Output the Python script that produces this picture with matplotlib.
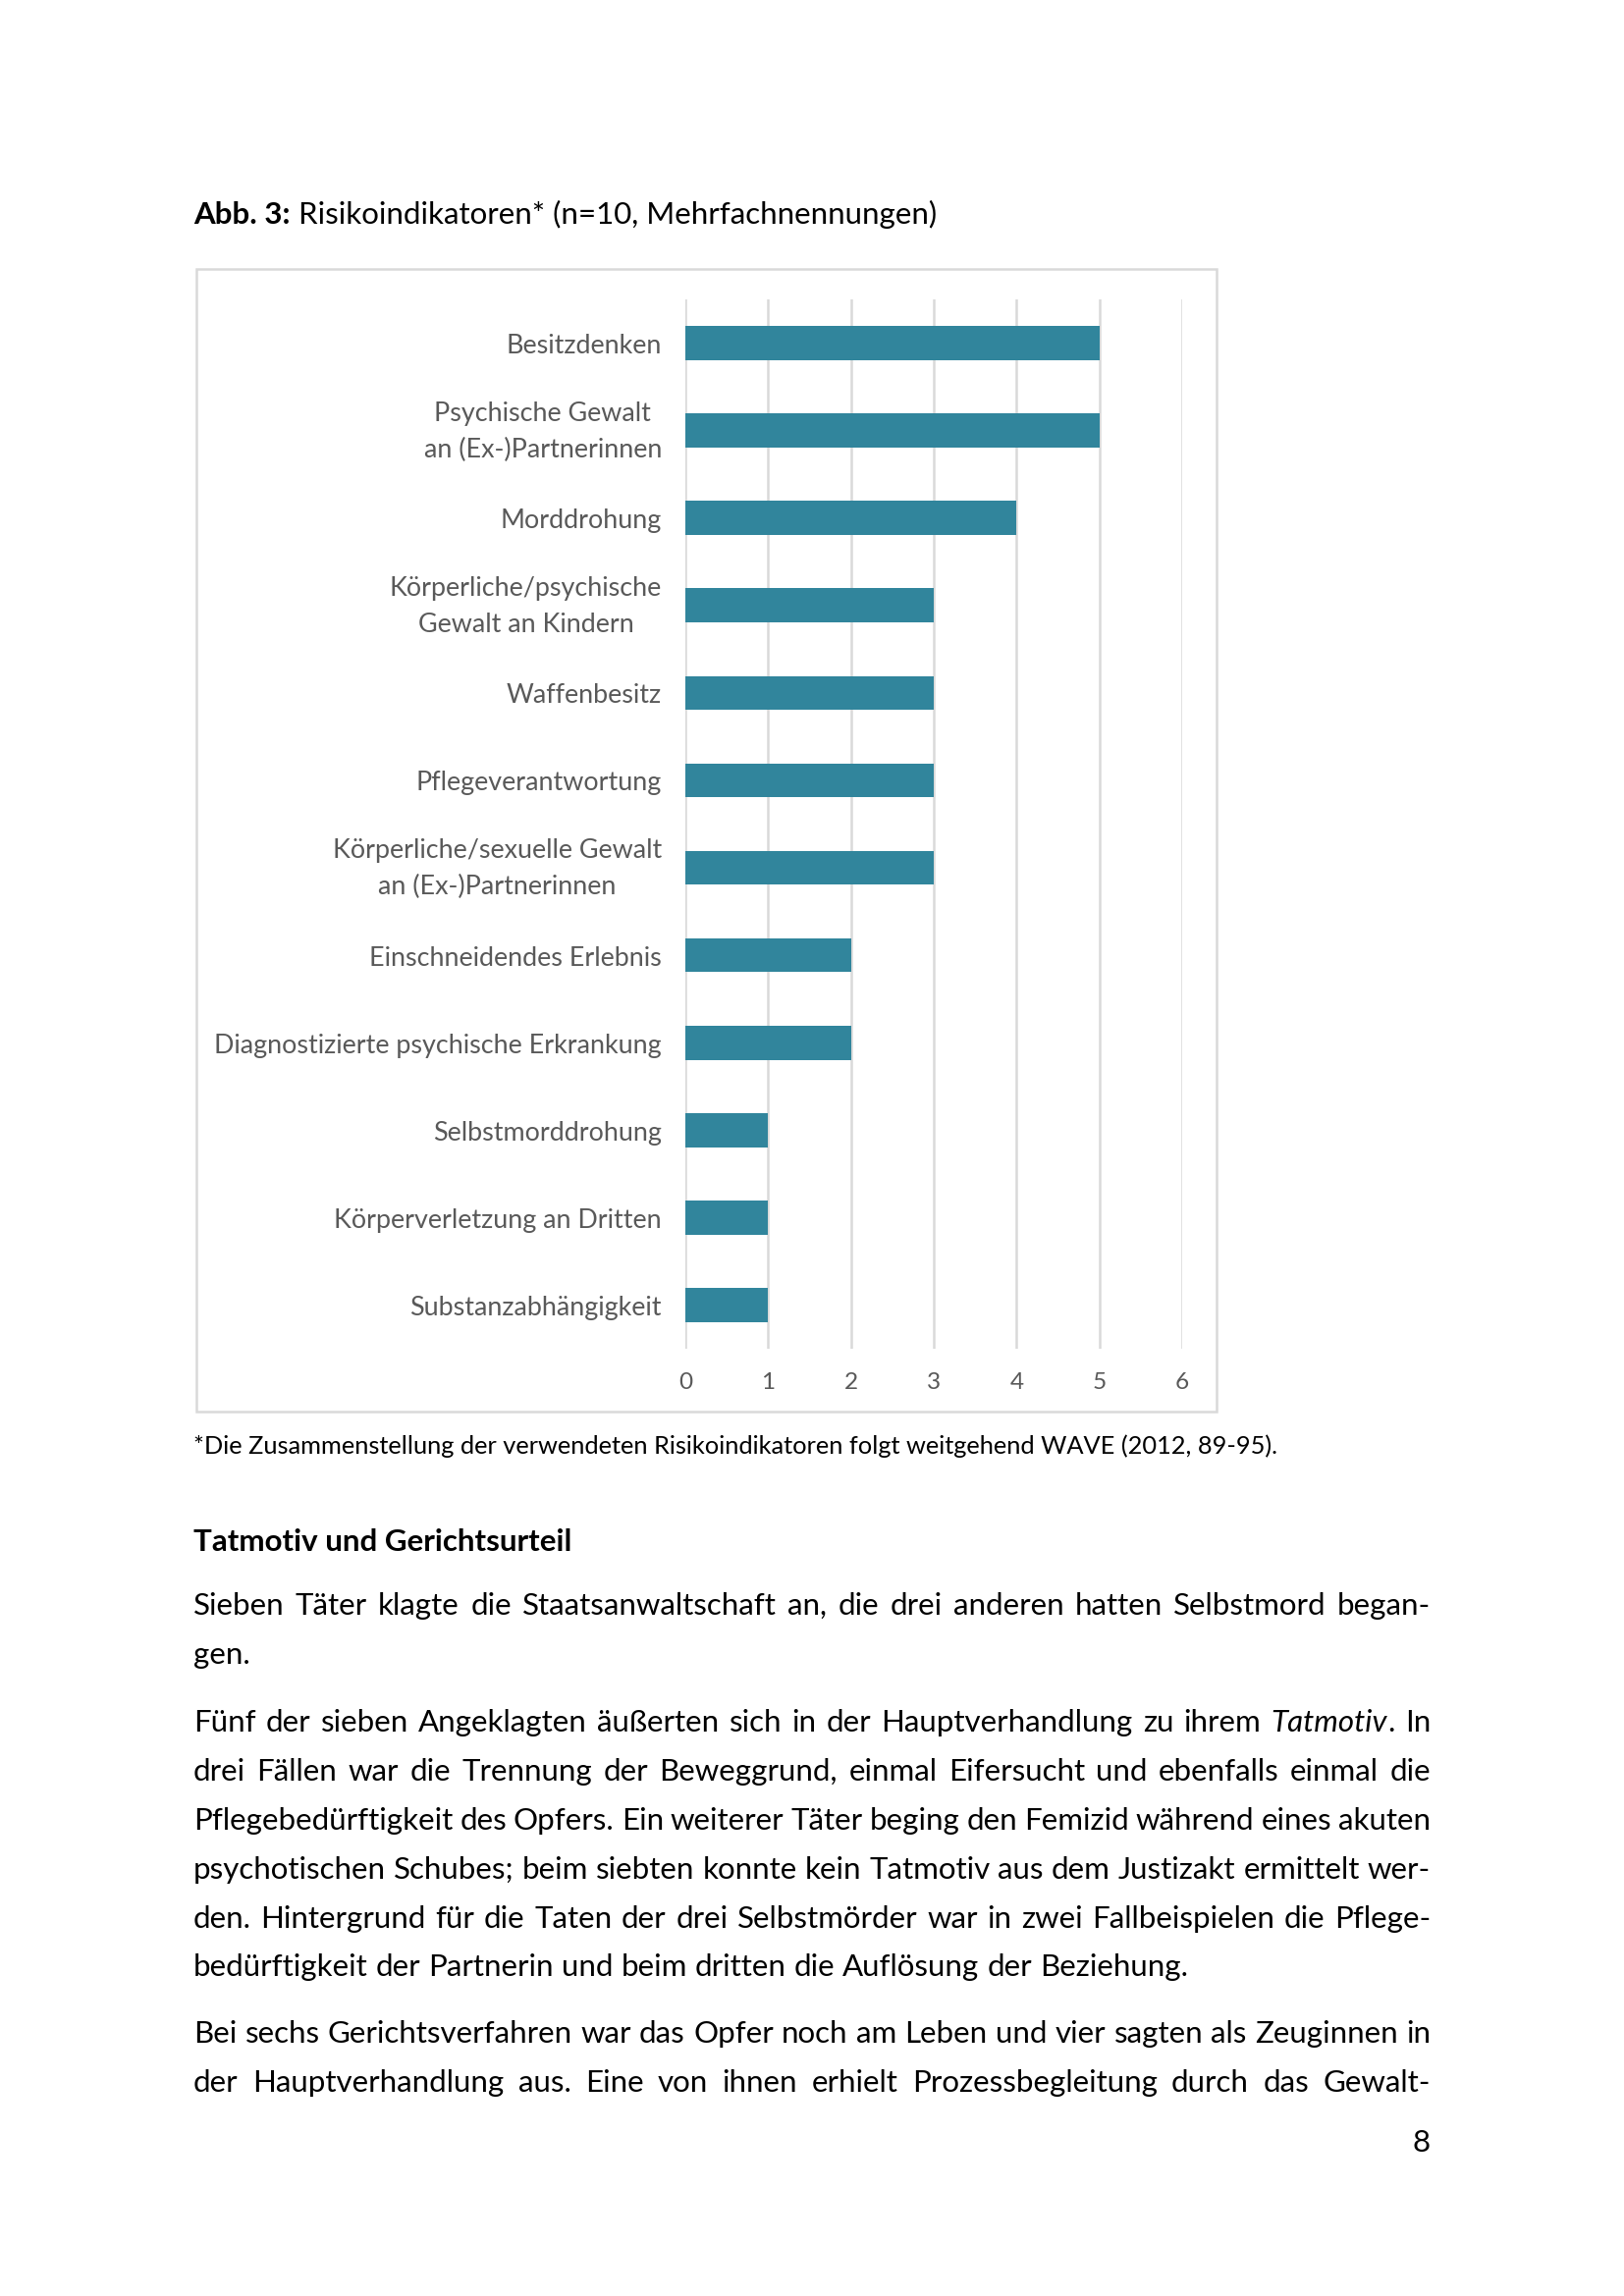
import matplotlib
matplotlib.use("Agg")
import matplotlib.pyplot as plt
import matplotlib.transforms as mtransforms
from matplotlib.patches import Rectangle

# -----------------------------
# Data
# -----------------------------
categories = [
    "Besitzdenken",
    "Psychische Gewalt\nan (Ex-)Partnerinnen",
    "Morddrohung",
    "Körperliche/psychische\nGewalt an Kindern",
    "Waffenbesitz",
    "Pflegeverantwortung",
    "Körperliche/sexuelle Gewalt\nan (Ex-)Partnerinnen",
    "Einschneidendes Erlebnis",
    "Diagnostizierte psychische Erkrankung",
    "Selbstmorddrohung",
    "Körperverletzung an Dritten",
    "Substanzabhängigkeit",
]
values = [5, 5, 4, 3, 3, 3, 3, 2, 2, 1, 1, 1]
xticks = [0, 1, 2, 3, 4, 5, 6]

title_bold = "Abb. 3:"
title_rest = "Risikoindikatoren* (n=10, Mehrfachnennungen)"
footnote = "*Die Zusammenstellung der verwendeten Risikoindikatoren folgt weitgehend WAVE (2012, 89-95)."
heading = "Tatmotiv und Gerichtsurteil"

# body lines: (text, justified?)  -- *word* marks italics
body = [
    ("Sieben Täter klagte die Staatsanwaltschaft an, die drei anderen hatten Selbstmord began-", True),
    ("gen.", False),
    ("Fünf der sieben Angeklagten äußerten sich in der Hauptverhandlung zu ihrem *Tatmotiv*. In", True),
    ("drei Fällen war die Trennung der Beweggrund, einmal Eifersucht und ebenfalls einmal die", True),
    ("Pflegebedürftigkeit des Opfers. Ein weiterer Täter beging den Femizid während eines akuten", True),
    ("psychotischen Schubes; beim siebten konnte kein Tatmotiv aus dem Justizakt ermittelt wer-", True),
    ("den. Hintergrund für die Taten der drei Selbstmörder war in zwei Fallbeispielen die Pflege-", True),
    ("bedürftigkeit der Partnerin und beim dritten die Auflösung der Beziehung.", False),
    ("Bei sechs Gerichtsverfahren war das Opfer noch am Leben und vier sagten als Zeuginnen in", True),
    ("der Hauptverhandlung aus. Eine von ihnen erhielt Prozessbegleitung durch das Gewalt-", True),
]
body_baselines = [1645, 1695, 1764, 1814, 1864, 1914, 1964, 2013, 2081, 2131]

# -----------------------------
# Page setup (pixel helpers)
# -----------------------------
W, H, DPI = 1654, 2339, 200
plt.rcParams['font.family'] = ['Lato', 'DejaVu Sans']

fig = plt.figure(figsize=(W / DPI, H / DPI), dpi=DPI)
renderer = fig.canvas.get_renderer()

def fx(x):
    return x / W

def fy(y):
    return 1 - y / H

BAR = '#31859C'
GRID = '#D9D9D9'
LABEL = '#595959'
BODY_SIZE = 11.25
LEFT, RIGHT = 197, 1457

def measure(txt, size, **kw):
    t = fig.text(0, 0, txt, fontsize=size, **kw)
    w = t.get_window_extent(renderer=renderer).width
    t.remove()
    return w

def put(x, y, txt, size, **kw):
    return fig.text(fx(x), fy(y), txt, fontsize=size, va='baseline', **kw)

# -----------------------------
# Title
# -----------------------------
put(LEFT, 228, title_bold, BODY_SIZE, fontweight='bold')
sp = measure("a a", BODY_SIZE) - measure("aa", BODY_SIZE)
put(LEFT + measure(title_bold, BODY_SIZE, fontweight='bold') + sp, 228, title_rest, BODY_SIZE)

# -----------------------------
# Chart frame + bars
# -----------------------------
fig.patches.append(Rectangle((fx(200), fy(1438)), (1239 - 200) / W, (1438 - 274) / H,
                             transform=fig.transFigure, fill=False,
                             edgecolor=GRID, lw=0.9))

ax = fig.add_axes([fx(698), fy(1374), (1204 - 698) / W, (1374 - 305) / H])
ypos = list(range(len(categories)))
ax.barh(ypos, values, height=0.39, color=BAR, zorder=3)
ax.set_xlim(0, 6)
ax.set_ylim(len(categories) - 0.5, -0.5)
ax.set_xticks(xticks)
ax.set_yticks(ypos)
ax.set_yticklabels([])
ax.set_xticklabels([str(t) for t in xticks], fontsize=8.8, color=LABEL)
ax.grid(axis='x', color=GRID, lw=0.9, zorder=0)
ax.set_axisbelow(True)
for s in ax.spines.values():
    s.set_visible(False)
ax.tick_params(axis='both', length=0)
ax.tick_params(axis='x', pad=8.5)
ax.patch.set_visible(False)

# category labels drawn by hand (small vertical nudges to match the original)
for yv, lab in zip(ypos, categories):
    dy = -1 / DPI if '\n' in lab else -3 / DPI
    tr = mtransforms.offset_copy(ax.get_yaxis_transform(), fig=fig,
                                 x=-24 / DPI, y=dy, units='inches')
    ax.text(0, yv, lab, transform=tr, ha='right', va='center',
            multialignment='center', fontsize=9.7, color=LABEL, linespacing=1.6)

# -----------------------------
# Footnote + heading
# -----------------------------
put(LEFT, 1481, footnote, 9.16)
put(LEFT, 1580, heading, BODY_SIZE, fontweight='bold')

# -----------------------------
# Justified body text
# -----------------------------
def word_segments(word):
    # split "*Tatmotiv*." into italic / normal pieces
    segs = []
    parts = word.split('*')
    for i, p in enumerate(parts):
        if p:
            segs.append((p, 'italic' if i % 2 == 1 else 'normal'))
    return segs

for (line, justify), base in zip(body, body_baselines):
    words = [word_segments(w) for w in line.split(' ')]
    widths = [sum(measure(t, BODY_SIZE, style=st) for t, st in w) for w in words]
    if justify and len(words) > 1:
        gap = (RIGHT - LEFT - sum(widths)) / (len(words) - 1)
    else:
        gap = sp
    x = LEFT
    for w, wd in zip(words, widths):
        xx = x
        for t, st in w:
            put(xx, base, t, BODY_SIZE, style=st)
            xx += measure(t, BODY_SIZE, style=st)
        x += wd + gap

# page number
put(RIGHT, 2192, "8", BODY_SIZE, ha='right')

fig.savefig("out.png", dpi=DPI)
